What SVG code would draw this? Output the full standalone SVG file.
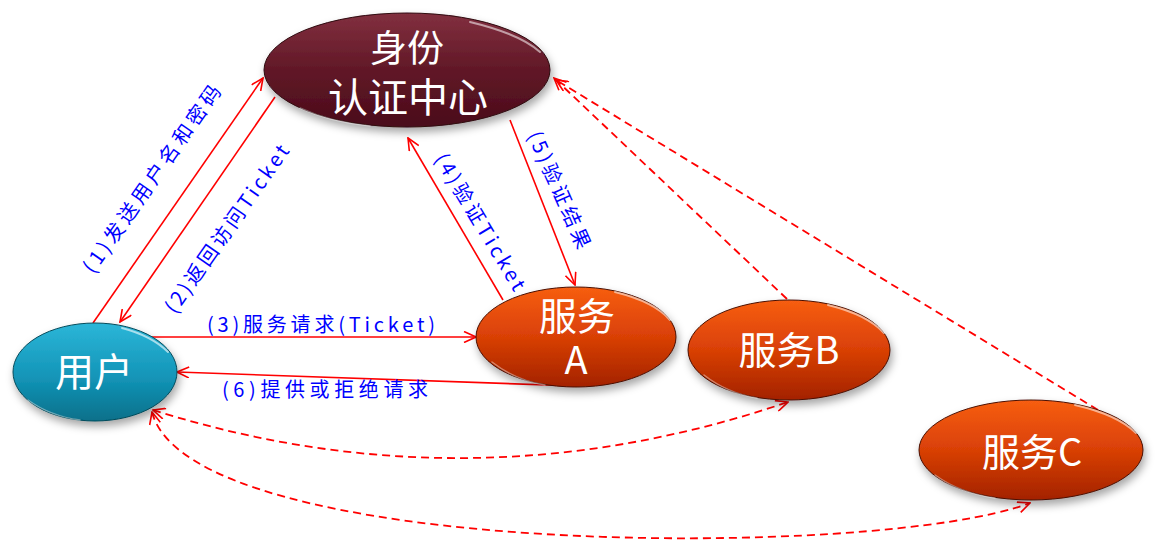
<svg xmlns="http://www.w3.org/2000/svg" width="1157" height="541" viewBox="0 0 1157 541">
<style>
.cn{fill:none;stroke:#ff0000;stroke-width:1.6}
.dash{stroke-dasharray:8 5;stroke-width:1.8}
.lbl{font-family:"Noto Sans CJK SC","Noto Sans",sans-serif;font-size:20px;fill:#0000ff}
.nt{font-family:"Noto Sans CJK SC","Noto Sans",sans-serif;fill:#ffffff;text-anchor:middle}
.hl{fill:none;stroke:#ffffff;stroke-linecap:round}
</style>
<defs>
<marker id="ar" viewBox="0 0 14 12" refX="13" refY="6" markerWidth="14" markerHeight="12" markerUnits="userSpaceOnUse" orient="auto-start-reverse">
<path d="M1,0.5 L13,6 L1,11.5" fill="none" stroke="#ff0000" stroke-width="1.6"/>
</marker>
<linearGradient id="gM" x1="0" y1="0" x2="0" y2="1">
<stop offset="0" stop-color="#82303f"/><stop offset="0.5" stop-color="#611827"/><stop offset="1" stop-color="#4a0b1a"/>
</linearGradient>
<linearGradient id="gT" x1="0" y1="0" x2="0" y2="1">
<stop offset="0" stop-color="#2cb6d8"/><stop offset="0.55" stop-color="#1395b8"/><stop offset="1" stop-color="#07708a"/>
</linearGradient>
<linearGradient id="gO" x1="0" y1="0" x2="0" y2="1">
<stop offset="0" stop-color="#f75e12"/><stop offset="0.5" stop-color="#d94006"/><stop offset="1" stop-color="#a32200"/>
</linearGradient>
<filter id="sh" x="-20%" y="-20%" width="140%" height="150%">
<feDropShadow dx="2" dy="5" stdDeviation="4" flood-color="#000" flood-opacity="0.35"/>
</filter>
</defs>

<g id="connectors">
<path class="cn" d="M93,323 L263,78" marker-end="url(#ar)"/>
<path class="cn" d="M275,97 L120,322" marker-end="url(#ar)"/>
<path class="cn" d="M152,337 L476,337" marker-end="url(#ar)"/>
<path class="cn" d="M577,386 L177,372" marker-end="url(#ar)"/>
<path class="cn" d="M503,300 L408,138" marker-end="url(#ar)"/>
<path class="cn" d="M510,120 L575,285" marker-end="url(#ar)"/>
<path class="cn dash" d="M787,299 L554,78" marker-end="url(#ar)"/>
<path class="cn dash" d="M1098,410 L556,80" marker-end="url(#ar)"/>
<path class="cn dash" d="M153,410 Q470,510 788,402" marker-start="url(#ar)" marker-end="url(#ar)"/>
<path class="cn dash" d="M152,412 C190,560 880,560 1030,503" marker-start="url(#ar)" marker-end="url(#ar)"/>
<text class="lbl" transform="translate(152,179) rotate(-55)" text-anchor="middle" dy="7" textLength="224" lengthAdjust="spacing">(1)发送用户名和密码</text>
<text class="lbl" transform="translate(227,229) rotate(-55)" text-anchor="middle" dy="7" textLength="200" lengthAdjust="spacing">(2)返回访问Ticket</text>
<text class="lbl" x="321" y="332" text-anchor="middle" textLength="228" lengthAdjust="spacing">(3)服务请求(Ticket)</text>
<text class="lbl" x="325" y="397" text-anchor="middle" textLength="206" lengthAdjust="spacing">(6)提供或拒绝请求</text>
<text class="lbl" transform="translate(480,222) rotate(59)" text-anchor="middle" dy="7" textLength="156" lengthAdjust="spacing">(4)验证Ticket</text>
<text class="lbl" transform="translate(559,190) rotate(66)" text-anchor="middle" dy="7" textLength="126" lengthAdjust="spacing">(5)验证结果</text>
</g>

<g id="auth">
<ellipse cx="407" cy="70" rx="143" ry="57" fill="url(#gM)" stroke="#2e0810" stroke-width="1" filter="url(#sh)"/>
<path class="hl" d="M470,22 Q520,34 540,52" stroke-width="2" opacity="0.55"/>
<path class="hl" d="M300,108 Q330,122 370,126" stroke-width="1.5" opacity="0.35"/>
<text class="nt"><tspan x="407" y="62" font-size="37">身份</tspan><tspan x="408" y="112" font-size="40">认证中心</tspan></text>
</g>

<g id="user">
<ellipse cx="95" cy="372" rx="82" ry="49" fill="url(#gT)" stroke="#064a5a" stroke-width="1" filter="url(#sh)"/>
<path class="hl" d="M122,328 Q152,336 168,352" stroke-width="2" opacity="0.6"/>
<path class="hl" d="M28,400 Q50,416 80,420" stroke-width="1.5" opacity="0.4"/>
<text class="nt" x="94" y="386" font-size="39">用户</text>
</g>

<g id="svcA">
<ellipse cx="576" cy="337" rx="100" ry="50" fill="url(#gO)" stroke="#4a1000" stroke-width="1" filter="url(#sh)"/>
<path class="hl" d="M615,292 Q655,302 670,320" stroke-width="2" opacity="0.55"/>
<path class="hl" d="M492,362 Q515,380 545,385" stroke-width="1.5" opacity="0.4"/>
<text class="nt" font-size="38"><tspan x="577" y="330">服务</tspan><tspan x="576" y="374">A</tspan></text>
</g>

<g id="svcB">
<ellipse cx="789" cy="350" rx="101" ry="50" fill="url(#gO)" stroke="#4a1000" stroke-width="1" filter="url(#sh)"/>
<path class="hl" d="M828,305 Q868,315 884,333" stroke-width="2" opacity="0.55"/>
<path class="hl" d="M704,375 Q727,393 757,398" stroke-width="1.5" opacity="0.4"/>
<text class="nt" x="789" y="364" font-size="38">服务B</text>
</g>

<g id="svcC">
<ellipse cx="1031" cy="450" rx="112" ry="50" fill="url(#gO)" stroke="#4a1000" stroke-width="1" filter="url(#sh)"/>
<path class="hl" d="M1075,405 Q1118,415 1136,433" stroke-width="2" opacity="0.55"/>
<path class="hl" d="M935,475 Q960,493 995,498" stroke-width="1.5" opacity="0.4"/>
<text class="nt" x="1032" y="466" font-size="38">服务C</text>
</g>
</svg>
